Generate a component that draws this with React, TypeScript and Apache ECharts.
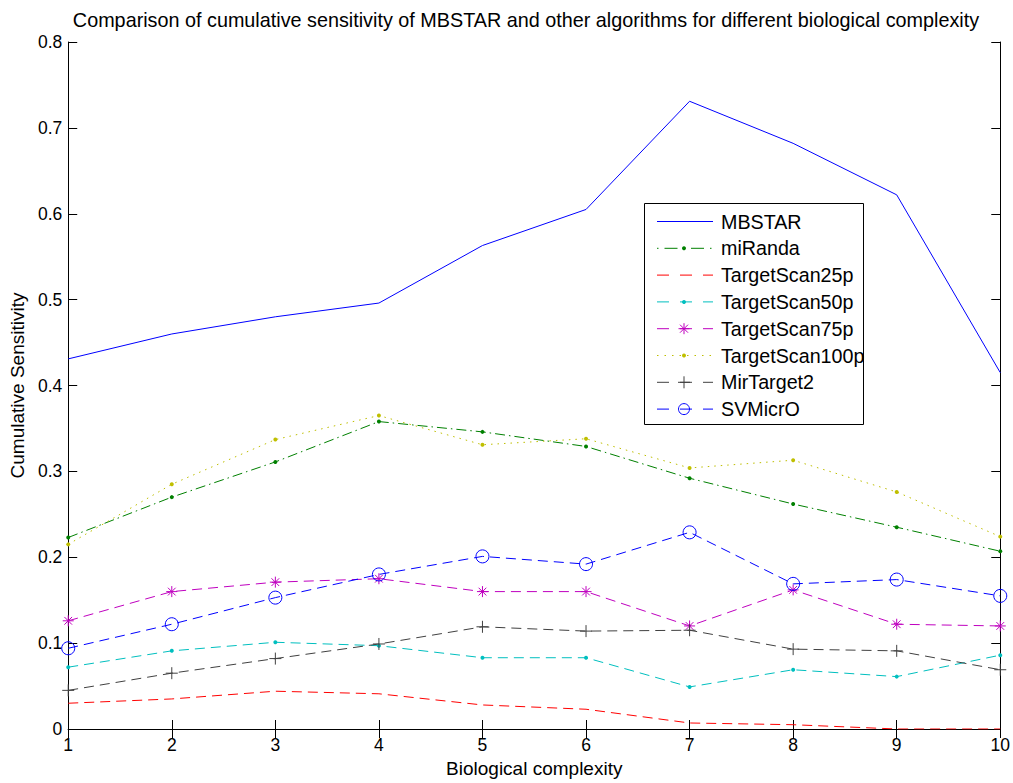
import React, { useEffect, useRef } from "react";
import * as echarts from "echarts";

const xValues = [1, 2, 3, 4, 5, 6, 7, 8, 9, 10];
const mbstar = [0.431, 0.46, 0.48, 0.496, 0.563, 0.605, 0.731, 0.682, 0.622, 0.415];
const miRanda = [0.223, 0.27, 0.311, 0.358, 0.346, 0.329, 0.292, 0.262, 0.235, 0.207];
const ts25 = [0.03, 0.035, 0.044, 0.041, 0.028, 0.023, 0.007, 0.005, 0.0, 0.0];
const ts50 = [0.072, 0.091, 0.101, 0.097, 0.083, 0.083, 0.049, 0.069, 0.061, 0.086];
const ts75 = [0.126, 0.16, 0.171, 0.175, 0.16, 0.16, 0.12, 0.162, 0.122, 0.12];
const ts100 = [0.215, 0.285, 0.337, 0.365, 0.331, 0.338, 0.304, 0.313, 0.276, 0.224];
const mirTarget2 = [0.045, 0.065, 0.082, 0.099, 0.119, 0.114, 0.115, 0.093, 0.091, 0.069];
const svMicrO = [0.094, 0.122, 0.153, 0.18, 0.201, 0.192, 0.229, 0.169, 0.174, 0.155];

const seriesNames = [
  "MBSTAR",
  "miRanda",
  "TargetScan25p",
  "TargetScan50p",
  "TargetScan75p",
  "TargetScan100p",
  "MirTarget2",
  "SVMicrO",
];
const seriesData = [mbstar, miRanda, ts25, ts50, ts75, ts100, mirTarget2, svMicrO];
const colors = ["#0000ff", "#008000", "#ff0000", "#00bfbf", "#bf00bf", "#bfbf00", "#404040", "#0000ff"];
const markers = ["none", "dot", "none", "dot", "asterisk", "dot", "plus", "circle"];
const plotDash: any[] = ["solid", [10, 4, 1.5, 4], [10, 6], [10, 6], [10, 6], [1.5, 5], [10, 6], [10, 6]];
const legendDash: any[] = [null, [1.5, 6, 13, 6], [12, 11], [12, 11], [12, 11], [1.5, 6], [12, 11], [12, 11]];

const ASTERISK = "path://M5,0L5,10M0,5L10,5M1.5,1.5L8.5,8.5M1.5,8.5L8.5,1.5";
const PLUS = "path://M5,0L5,10M0,5L10,5";

function pts(arr: number[]) {
  return arr.map((v, i) => [xValues[i], v]);
}

function symbolFor(m: string) {
  if (m === "dot") return { symbol: "circle", size: 4 };
  if (m === "asterisk") return { symbol: ASTERISK, size: 11 };
  if (m === "plus") return { symbol: PLUS, size: 12 };
  if (m === "circle") return { symbol: "circle", size: 13 };
  return { symbol: "none", size: 0 };
}

function legendMarker(m: string, cx: number, cy: number, color: string): any[] {
  const st = { stroke: color, lineWidth: 1 };
  if (m === "dot") return [{ type: "circle", shape: { cx, cy, r: 2 }, style: { fill: color }, z: 102 }];
  if (m === "circle")
    return [{ type: "circle", shape: { cx, cy, r: 5.5 }, style: { fill: "none", stroke: color, lineWidth: 1 }, z: 102 }];
  if (m === "plus")
    return [
      { type: "line", shape: { x1: cx - 6, y1: cy, x2: cx + 6, y2: cy }, style: st, z: 102 },
      { type: "line", shape: { x1: cx, y1: cy - 6, x2: cx, y2: cy + 6 }, style: st, z: 102 },
    ];
  if (m === "asterisk")
    return [
      { type: "line", shape: { x1: cx - 5.5, y1: cy, x2: cx + 5.5, y2: cy }, style: st, z: 102 },
      { type: "line", shape: { x1: cx, y1: cy - 5.5, x2: cx, y2: cy + 5.5 }, style: st, z: 102 },
      { type: "line", shape: { x1: cx - 4, y1: cy - 4, x2: cx + 4, y2: cy + 4 }, style: st, z: 102 },
      { type: "line", shape: { x1: cx - 4, y1: cy + 4, x2: cx + 4, y2: cy - 4 }, style: st, z: 102 },
    ];
  return [];
}

export default function App() {
  const ref = useRef<HTMLDivElement>(null);
  useEffect(() => {
    if (!ref.current) return;
    const chart = echarts.init(ref.current, undefined, { renderer: "svg" });
    const font = "Liberation Sans, Arial, Helvetica, sans-serif";

    const series = seriesNames.map((name, i) => {
      const s = symbolFor(markers[i]);
      const isStroke = markers[i] === "asterisk" || markers[i] === "plus" || markers[i] === "circle";
      return {
        name,
        type: "line",
        data: pts(seriesData[i]),
        symbol: s.symbol,
        symbolSize: s.size,
        showSymbol: s.symbol !== "none",
        lineStyle: { color: colors[i], width: 1, type: plotDash[i] },
        itemStyle: isStroke
          ? { color: markers[i] === "circle" ? "rgba(0,0,0,0)" : colors[i], borderColor: colors[i], borderWidth: 1 }
          : { color: colors[i] },
        z: 2,
      };
    });

    const lx0 = 657;
    const lx1 = 713;
    const lmid = 684;
    const ty0 = 221.5;
    const dy = 26.8;
    const legendEls: any[] = [
      {
        type: "rect",
        shape: { x: 644.5, y: 203.5, width: 219, height: 221 },
        style: { fill: "#fff", stroke: "#000", lineWidth: 1 },
        z: 100,
      },
    ];
    seriesNames.forEach((name, i) => {
      const y = ty0 + i * dy;
      legendEls.push({
        type: "line",
        shape: { x1: lx0, y1: y, x2: lx1, y2: y },
        style: { stroke: colors[i], lineWidth: 1, lineDash: legendDash[i] || undefined },
        z: 101,
      });
      legendEls.push(...legendMarker(markers[i], lmid, y, colors[i]));
      legendEls.push({
        type: "text",
        x: 721,
        y,
        style: {
          text: name,
          fontFamily: font,
          fontSize: 19.7,
          fill: "#000",
          verticalAlign: "middle",
        },
        z: 103,
      });
    });

    const option: any = {
      animation: false,
      backgroundColor: "#ffffff",
      title: {
        text: "Comparison of cumulative sensitivity of MBSTAR and other algorithms for different biological complexity",
        left: 521,
        textAlign: "center",
        top: 5,
        textStyle: { fontFamily: font, fontSize: 19.8, fontWeight: "normal", color: "#000" },
      },
      grid: { left: 68, right: 12, top: 42, bottom: 49 },
      graphic: legendEls,
      xAxis: [
        {
          type: "value",
          min: 1,
          max: 10,
          interval: 1,
          name: "Biological complexity",
          nameLocation: "middle",
          nameGap: 30,
          nameTextStyle: { fontFamily: font, fontSize: 19, color: "#000" },
          axisLine: { lineStyle: { color: "#000", width: 1 } },
          axisTick: { inside: true, length: 9, lineStyle: { color: "#000" } },
          axisLabel: { fontFamily: font, fontSize: 17.5, color: "#000", margin: 7 },
          splitLine: { show: false },
        },
        {
          type: "value",
          position: "top",
          min: 1,
          max: 10,
          interval: 1,
          axisLine: { show: true, lineStyle: { color: "#000", width: 1 } },
          axisTick: { show: true, inside: true, length: 9, lineStyle: { color: "#000" } },
          axisLabel: { show: false },
          splitLine: { show: false },
        },
      ],
      yAxis: [
        {
          type: "value",
          min: 0,
          max: 0.8,
          interval: 0.1,
          name: "Cumulative Sensitivity",
          nameLocation: "middle",
          nameGap: 40,
          nameTextStyle: { fontFamily: font, fontSize: 19, color: "#000" },
          axisLine: { show: true, lineStyle: { color: "#000", width: 1 } },
          axisTick: { show: true, inside: true, length: 9, lineStyle: { color: "#000" } },
          axisLabel: {
            fontFamily: font,
            fontSize: 17.5,
            color: "#000",
            margin: 6,
            formatter: (v: number) => String(Math.round(v * 10) / 10),
          },
          splitLine: { show: false },
        },
        {
          type: "value",
          position: "right",
          min: 0,
          max: 0.8,
          interval: 0.1,
          axisLine: { show: true, lineStyle: { color: "#000", width: 1 } },
          axisTick: { show: true, inside: true, length: 9, lineStyle: { color: "#000" } },
          axisLabel: { show: false },
          splitLine: { show: false },
        },
      ],
      series,
    };
    chart.setOption(option);
    return () => chart.dispose();
  }, []);
  return <div ref={ref} style={{ width: 1013, height: 783, position: "absolute", left: 0, top: 0 }} />;
}
